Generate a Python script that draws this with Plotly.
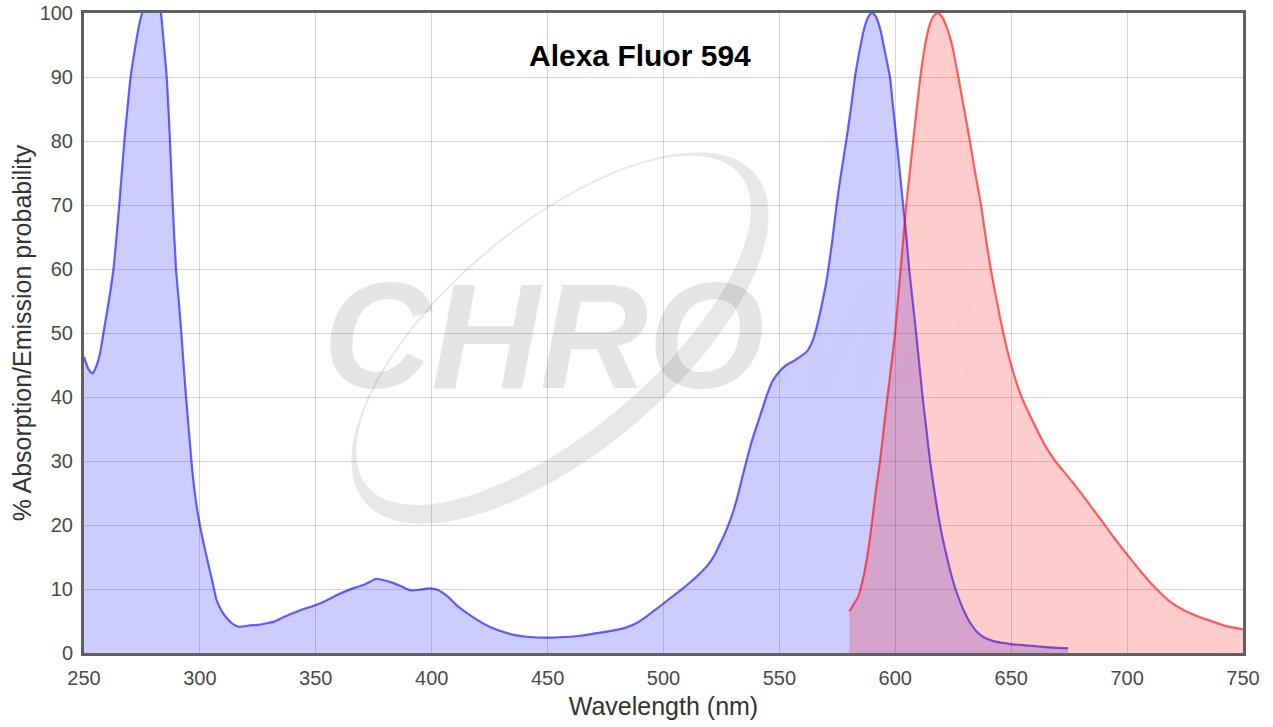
import numpy as np
import plotly.graph_objects as go

# ---------------- data ----------------
abs_wl = [250, 252, 253.7, 255.3, 256.9, 258.6, 260.7, 262.7, 264, 265.2, 266.3, 267.4, 268.7, 270.1, 272,
          274, 276, 279, 282, 283.2, 284.5, 285.7, 287.1, 288.3, 289.7, 290.9, 292, 293.6, 295.2, 296.6,
          298.2, 300, 302, 303.6, 305.5, 307.2, 309.5, 311.5, 314, 317,
          321, 325, 328, 332, 336, 340, 345, 350, 355, 360, 366, 371, 376, 379, 383, 387, 391, 395, 399,
          403, 407, 411, 415, 420, 425, 430, 436, 442, 450, 457, 464, 471, 478, 484, 489, 493, 497, 500.2,
          503, 507, 511, 515, 519, 522, 524, 526, 529, 531.6, 534, 536, 538, 540.2, 542.5, 544.5, 547, 550,
          553, 556, 559, 562, 564, 565.4, 567, 568.5, 570, 571.5, 573, 574.5, 576, 577.5, 579, 580.8, 582.6,
          584.5, 586.5, 588.5, 590, 591.5, 593.5, 595.5, 597.7, 599, 600.6, 602, 603.4, 604.8, 606, 607.5,
          609, 610.4, 611.8, 613.4, 615, 617, 619.3, 621.5, 623.6, 625.8, 628, 630, 632.2, 635, 638, 642,
          646, 650, 656, 662.4, 668, 674.6]
abs_val = [46.3, 44.3, 43.7, 44.8, 46.8, 50.5, 55, 60, 65, 70, 75, 80, 85, 90, 94.5,
           98.5, 101, 103, 102, 100, 95, 90, 80, 70, 60, 55, 50, 42, 35, 29,
           24, 20, 16.5, 14, 11, 8.3, 6.5, 5.5, 4.6, 4.1,
           4.3, 4.4, 4.6, 4.9, 5.6, 6.2, 6.9, 7.5, 8.3, 9.2, 10.1, 10.7, 11.6, 11.4, 11.0, 10.4, 9.8, 9.9, 10.1,
           9.8, 8.8, 7.4, 6.3, 5.1, 4.1, 3.4, 2.8, 2.5, 2.4, 2.5, 2.7, 3.1, 3.5, 4.0, 4.8, 5.8, 6.9, 7.8,
           8.6, 9.7, 10.9, 12.2, 13.7, 15.3, 16.8, 18.3, 21, 24, 27.5, 30.3, 33, 35.5, 38, 40.2, 42.5, 44,
           45, 45.6, 46.3, 47.2, 48.5, 50, 52.3, 54.8, 57.5, 61, 65, 69.5, 73.5, 77, 80.5, 85, 90,
           94, 97.5, 99.5, 100, 99.5, 97.5, 94, 90, 85.5, 80, 75, 70, 65, 60, 55,
           50, 45, 40, 35, 30, 25, 20, 16.2, 13.0, 10.2, 8.0, 6.3, 4.8, 3.4, 2.5, 1.9,
           1.6, 1.4, 1.2, 1.0, 0.85, 0.75]

em_wl = [580.2, 582, 584, 586, 588, 589.8, 591.5, 593.4, 595, 596.6, 598.3, 599.9, 601.1, 602.3, 603.5,
         604.7, 606.2, 607.7, 609.2, 610.8, 612.6, 614.5, 616.5, 618.3, 620, 622, 624.5, 627.2, 629.7,
         632.2, 634.5, 637, 639, 641.2, 643.8, 646.6, 650, 654.5, 661, 665, 669, 674, 679.5, 684, 689,
         694, 700, 706, 712.7, 718, 724, 730, 737, 743, 750]
em_val = [6.5, 7.6, 8.8, 11.5, 15.3, 20, 25, 30, 35, 40, 45, 50, 55, 60, 65,
          70, 75, 80, 85, 90, 94.5, 97.8, 99.5, 100, 99.5, 98, 95, 90, 85,
          80, 75, 70, 65, 60, 55, 50, 45, 40, 35, 32.2, 30, 27.8, 25.3, 23.1, 20.7,
          18.2, 15.4, 12.7, 10, 8.2, 6.8, 5.8, 4.9, 4.2, 3.7]

x_ticks = [250, 300, 350, 400, 450, 500, 550, 600, 650, 700, 750]
y_ticks = [0, 10, 20, 30, 40, 50, 60, 70, 80, 90, 100]

chart_title = "Alexa Fluor 594"
x_title = "Wavelength (nm)"
y_title = "% Absorption/Emission probability"

FONT = "Liberation Sans, Arial, sans-serif"

fig = go.Figure()
fig.add_trace(go.Scatter(x=abs_wl, y=abs_val, mode="lines", fill="tozeroy",
                         line=dict(color="rgba(0,0,255,0.6)", width=2.2, shape="spline", smoothing=0.6),
                         fillcolor="rgba(0,0,255,0.2)", name="Absorption", hoverinfo="x+y"))
fig.add_trace(go.Scatter(x=em_wl, y=em_val, mode="lines", fill="tozeroy",
                         line=dict(color="rgba(255,0,0,0.6)", width=2.2, shape="spline", smoothing=0.6),
                         fillcolor="rgba(255,0,0,0.2)", name="Emission", hoverinfo="x+y"))

# ---------------- watermark (decoration) ----------------
W, H = 1273, 727
L, R, T, B = 84, 30, 13, 74
pw, ph = W - L - R, H - T - B


def to_paper(px, py):
    return (px - L) / pw, (H - B - py) / ph


def ellipse_pts(cx, cy, a, b, ang_deg, n=90, reverse=False):
    ang = np.radians(ang_deg)
    u = np.array([np.cos(ang), -np.sin(ang)])
    v = np.array([-np.sin(ang), -np.cos(ang)])
    ts = np.linspace(0, 2 * np.pi, n, endpoint=False)
    if reverse:
        ts = ts[::-1]
    pts = []
    for t in ts:
        p = np.array([cx, cy]) + a * np.cos(t) * u + b * np.sin(t) * v
        pts.append(to_paper(p[0], p[1]))
    return pts


outer = ellipse_pts(560, 338, 255, 114, 40)
inner = ellipse_pts(560 + 10 * (-np.sin(np.radians(40))), 338 + 10 * (-np.cos(np.radians(40))),
                    243, 102, 40, reverse=True)


def path_of(pts):
    s = "M %.4f,%.4f " % pts[0]
    s += " ".join("L %.4f,%.4f" % p for p in pts[1:])
    return s + " Z"


fig.add_shape(type="path", path=path_of(outer) + " " + path_of(inner), xref="paper", yref="paper",
              fillcolor="rgba(0,0,0,0.09)", line=dict(width=0), layer="below")

wx, wy = to_paper(660, 336)
fig.add_annotation(x=wx, y=wy, xref="paper", yref="paper", showarrow=False,
                   xanchor="center", yanchor="middle",
                   text="CHRO<span style='color:rgba(0,0,0,0.06)'>MA</span>",
                   font=dict(family=FONT, size=150, color="rgba(0,0,0,0.1)", weight="bold", style="italic"))

tx, ty = to_paper(640, 55)
fig.add_annotation(x=tx, y=ty, xref="paper", yref="paper", showarrow=False, text=chart_title,
                   xanchor="center", yanchor="middle",
                   font=dict(family=FONT, size=30, color="#000000", weight="bold"))

axis_common = dict(showgrid=True, gridcolor="rgba(0,0,0,0.16)", gridwidth=1,
                   showline=True, linecolor="#606060", linewidth=3, mirror=True, automargin=False,
                   zeroline=False, ticks="", tickfont=dict(family=FONT, size=20, color="#4a4a4a"))

fig.update_xaxes(range=[250, 750], tickvals=x_ticks, ticktext=[str(t) for t in x_ticks],
                 title=dict(text=x_title, font=dict(family=FONT, size=25, color="#333333"), standoff=10),
                 ticklabelstandoff=5, **axis_common)
fig.update_yaxes(range=[0, 100], tickvals=y_ticks, ticktext=[str(t) for t in y_ticks],
                 title=dict(text=y_title, font=dict(family=FONT, size=25, color="#333333"), standoff=1),
                 ticklabelstandoff=4, **axis_common)

fig.update_layout(width=W, height=H, margin=dict(l=L, r=R, t=T, b=B, autoexpand=False),
                  paper_bgcolor="white", plot_bgcolor="white", showlegend=False,
                  font=dict(family=FONT))

fig.write_html("out.html", include_plotlyjs=True, config={"displayModeBar": False})
